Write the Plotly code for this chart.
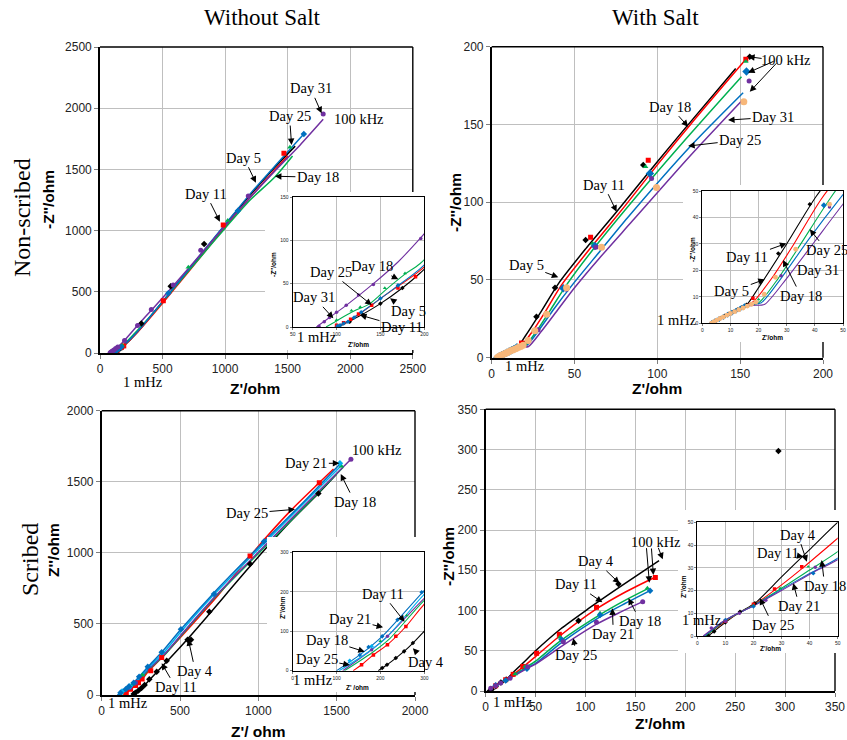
import plotly.graph_objects as go

W, H = 847, 740
SERIF = "Liberation Serif, Times New Roman, serif"
SANS = "Liberation Sans, Arial, sans-serif"

COLORS = {"black": "#000000", "red": "#FF0000", "green": "#00B050", "blue": "#0070C0",
          "purple": "#7030A0", "orange": "#F7B77A", "cyan": "#00B0F0"}
SYMBOLS = {"black": "diamond", "red": "square", "green": "triangle-up", "blue": "diamond",
           "purple": "circle", "orange": "circle", "cyan": "diamond"}

# ---------------- Panel 1: without salt, non-scribed (Z' , -Z'' in ohm) ----------------
P1_LINE_X = {
    "black": [102, 125, 150, 175, 195, 300, 420, 600, 800, 1000, 1200, 1400, 1560],
    "red": [98, 110, 126, 155, 195, 300, 420, 600, 800, 1000, 1200, 1400, 1500],
    "green": [88, 100, 117, 138, 155, 178, 195, 300, 420, 600, 800, 1000, 1200, 1400, 1539],
    "blue": [100, 115, 138, 165, 195, 300, 420, 600, 800, 1000, 1200, 1400, 1629],
    "purple": [77, 92, 111, 142, 170, 195, 300, 420, 600, 800, 1000, 1200, 1400, 1600, 1784],
}
P1_LINE_Y = {
    "black": [0, 12, 27, 45, 62, 172, 318, 545, 795, 1045, 1290, 1520, 1690],
    "red": [0, 5, 15, 36.5, 65, 170, 310, 530, 780, 1030, 1270, 1500, 1610],
    "green": [0, 7, 17, 27, 42, 61, 73, 185, 320, 540, 780, 1020, 1250, 1440, 1609],
    "blue": [0, 8, 24, 44, 67, 175, 320, 545, 800, 1050, 1300, 1530, 1789],
    "purple": [0, 11, 25, 50, 75, 102, 225, 360, 565, 800, 1040, 1270, 1490, 1700, 1909],
}
P1_MARK_X = {
    "black": [103, 115, 130, 150, 175, 330, 565, 832],
    "red": [100, 108, 116, 125, 140, 170, 190, 506, 985, 1470],
    "green": [100, 117, 127, 155, 178, 706, 1021, 1518],
    "blue": [101, 104, 108, 113, 120, 128, 150, 170, 546, 1102, 1629],
    "purple": [80, 86, 92, 100, 111, 125, 142, 196, 300, 410, 585, 805, 1185, 1784],
}
P1_MARK_Y = {
    "black": [1, 6, 14, 27, 45, 240, 545, 890],
    "red": [2, 5, 9, 15, 25, 45, 58, 427, 1046, 1631],
    "green": [8, 19, 23, 45, 62, 700, 1082, 1680],
    "blue": [1, 2, 4, 6, 11, 17, 33, 48, 488, 1163, 1789],
    "purple": [1, 6, 11, 17, 25, 37, 49, 102, 225, 355, 555, 840, 1283, 1953],
}

# ---------------- Panel 2: with salt, non-scribed ----------------
P2_LINE_X = {
    "black": [3.3, 6, 9, 12, 15.7, 20, 30, 40.5, 56.7, 75.4, 100, 117.6, 147.3],
    "red": [3.3, 6, 9, 12, 15, 18.1, 25, 32, 42.3, 60, 80, 100, 120, 153.4],
    "green": [3.3, 6, 9, 12, 15, 19.9, 27, 35, 45.3, 60, 90, 120, 150.8],
    "blue": [3.3, 6, 9, 12, 15, 18, 21, 28, 38, 48.8, 65, 82, 120, 151.8],
    "purple": [3.8, 6.5, 9.5, 12.5, 15.5, 19, 22.2, 30, 40, 50, 65, 85, 120, 151.4],
}
P2_LINE_Y = {
    "black": [0, 1.6, 3.3, 5, 6.9, 13.5, 30, 48, 70, 93.9, 126, 148.6, 186],
    "red": [0, 1.6, 3.3, 5, 6.6, 8.2, 17.5, 29, 47, 71, 97, 124, 150, 191.9],
    "green": [0, 1.6, 3.3, 5, 6.6, 7.6, 17, 30, 47, 68, 107, 144, 180.7],
    "blue": [0, 1.6, 3.3, 5, 6.6, 7.2, 7.8, 17, 32, 47, 68, 90, 136, 170.4],
    "purple": [0, 1.6, 3.3, 5, 6.4, 6.8, 7.2, 17, 31, 45, 64, 88, 130, 165.7],
}
P2_MARK_X = {
    "black": [3.5, 5, 6.5, 8, 9.5, 11, 12.5, 14, 15.7, 27, 38.2, 56.7, 91.5, 155.8],
    "red": [18, 59.7, 94.5, 153.4],
    "green": [20, 60.9, 92.9, 153.4],
    "blue": [3.3, 4.5, 6, 7.5, 9, 10.5, 12, 13.5, 15, 43.2, 62.3, 95.5, 153.8],
    "purple": [28, 45.2, 62.9, 96.5, 155.4],
    "orange": [3.3, 4.2, 5.2, 6.3, 7.5, 8.8, 10, 11.5, 13, 14.5, 16, 17.5, 19, 22, 26, 33.2, 45.2, 66.3, 99.5, 152.2],
}
P2_MARK_Y = {
    "black": [0.3, 1.2, 2, 2.8, 3.6, 4.4, 5.2, 6, 7, 26.4, 45, 75.7, 124, 193.6],
    "red": [9.5, 77.4, 127, 191.9],
    "green": [9, 73.5, 122.8, 190.5],
    "blue": [0, 0.8, 1.6, 2.4, 3.2, 4, 4.8, 5.6, 6.5, 44.6, 71.8, 118.5, 184],
    "purple": [18, 44, 71, 115.3, 178],
    "orange": [0, 0.6, 1.2, 1.8, 2.4, 3.1, 3.7, 4.4, 5.1, 5.8, 6.5, 7.2, 8, 11, 17.4, 28, 45, 71, 109.5, 164.6],
}

# ---------------- Panel 3: without salt, scribed ----------------
P3_LINE_X = {
    "black": [195, 215, 235, 254, 274, 304, 351, 415, 553, 687, 947, 1200, 1383, 1500],
    "red": [138, 157, 184, 216, 258, 297, 383, 540, 750, 947, 1200, 1389, 1480],
    "green": [118, 180, 220, 297, 400, 520, 730, 1050, 1300, 1540],
    "purple": [114, 180, 216, 297, 400, 520, 730, 1050, 1300, 1591],
    "cyan": [106, 160, 210, 297, 390, 510, 720, 1040, 1300, 1535],
    "blue": [100, 153, 204, 297, 383, 506, 717, 1036, 1300, 1521],
}
P3_LINE_Y = {
    "black": [0, 15, 32, 49, 70, 105, 160, 235, 400, 570, 905, 1215, 1418, 1555],
    "red": [0, 15, 40, 66, 112, 165, 263, 450, 710, 978, 1290, 1494, 1590],
    "green": [0, 45, 80, 175, 280, 435, 695, 1050, 1330, 1600],
    "purple": [0, 53, 87, 180, 285, 440, 700, 1060, 1340, 1658],
    "cyan": [0, 38, 80, 190, 290, 450, 710, 1070, 1360, 1620],
    "blue": [0, 40, 87, 200, 300, 462, 720, 1080, 1370, 1625],
}
P3_MARK_X = {
    "black": [204, 215, 235, 254, 274, 304, 351, 415, 548, 570, 687, 947, 1383],
    "red": [157, 184, 216, 235, 258, 313, 383, 947, 1389],
    "green": [200, 260, 1530],
    "purple": [180, 216, 1591],
    "cyan": [130, 180, 1521],
    "blue": [120, 153, 173, 204, 239, 294, 383, 506, 717, 1036],
}
P3_MARK_Y = {
    "black": [7, 15, 32, 49, 70, 110, 164, 241, 388, 388, 586, 921, 1418],
    "red": [15, 40, 66, 87, 112, 171, 263, 978, 1494],
    "green": [75, 140, 1610],
    "purple": [53, 87, 1658],
    "cyan": [25, 62, 1630],
    "blue": [15, 40, 60, 87, 129, 199, 300, 462, 710, 1079],
}

# ---------------- Panel 4: with salt, scribed ----------------
P4_LINE_X = {
    "black": [3.9, 10, 15.2, 20.5, 30, 40, 50, 75, 101, 133, 173.7],
    "red": [3, 10, 15, 20.5, 30, 37.8, 51, 73.8, 111, 140, 169.7],
    "green": [3, 10, 15, 20, 30, 40, 50, 74.5, 114.6, 140, 163],
    "blue": [2.5, 10, 15, 20, 30, 40, 50, 76, 114.6, 140, 164.7],
    "purple": [2.1, 10, 15, 20, 30, 42, 50, 77.8, 111, 135, 157.3],
}
P4_LINE_Y = {
    "black": [0, 6, 10.5, 14.4, 26, 38, 50, 77, 100.6, 128, 162],
    "red": [0, 6.5, 10.2, 14, 22.5, 30.2, 44, 68, 102, 123, 141.3],
    "green": [0, 6.8, 10.2, 13.5, 21, 29, 37.1, 62, 95, 113, 127.6],
    "blue": [0, 7, 10.3, 13.3, 20.5, 27.5, 34.2, 60, 92, 109, 124.7],
    "purple": [0, 7, 10.3, 13.2, 20, 28.5, 33.5, 57, 83, 98, 111],
}
P4_MARK_X = {
    "black": [4, 6, 10, 15.2, 20.5, 93, 133, 293.3],
    "red": [10, 20, 27.5, 37.2, 51, 73.8, 111, 170],
    "green": [10, 20, 29.5, 39.5, 74.5, 114.6, 162],
    "blue": [10, 20, 41.3, 76, 114.6, 164.7],
    "purple": [5, 10, 15, 24.4, 42, 77.8, 111, 157.3],
}
P4_MARK_Y = {
    "black": [0, 2, 6, 10.7, 14.4, 87.4, 133, 298.3],
    "red": [6.5, 14, 20.7, 30.5, 46.8, 70.4, 104, 141],
    "green": [7, 13.5, 21, 30.5, 66.7, 96.5, 127.6],
    "blue": [7, 13, 27.6, 64, 94.4, 124.7],
    "purple": [3.5, 6.5, 10, 15.7, 30.2, 61.3, 85.3, 111],
}

# ---------------- axes: ranges, ticks and pixel frames ----------------
P = {
    "p1": dict(xa="x", ya="y", xr=[0, 2500], yr=[0, 2500], px=[100, 412.8], py=[353, 47], dx=500, dy=500),
    "p2": dict(xa="x2", ya="y2", xr=[0, 200], yr=[0, 200], px=[491.7, 823], py=[357.7, 46.7], dx=50, dy=50),
    "p3": dict(xa="x3", ya="y3", xr=[0, 2000], yr=[0, 2000], px=[101.7, 415], py=[695, 410.7], dx=500, dy=500),
    "p4": dict(xa="x4", ya="y4", xr=[0, 350], yr=[0, 350], px=[485.7, 835], py=[691, 409.3], dx=50, dy=50),
    "i1": dict(xa="x5", ya="y5", xr=[50, 200], yr=[0, 150], px=[292.7, 424.3], py=[327, 197], dx=50, dy=50),
    "i2": dict(xa="x6", ya="y6", xr=[0, 50], yr=[0, 50], px=[702.3, 843], py=[323.3, 191], dx=10, dy=10),
    "i3": dict(xa="x7", ya="y7", xr=[0, 300], yr=[0, 300], px=[292.7, 424.3], py=[670.7, 552.3], dx=100, dy=100),
    "i4": dict(xa="x8", ya="y8", xr=[0, 50], yr=[0, 50], px=[697.3, 837.7], py=[636, 522.3], dx=10, dy=10),
}
# white boxes behind the insets (pixels: left, top, right, bottom)
BOXES = {"p1": (265, 192, 430, 350), "p2": (683, 185, 847, 342),
         "p3": (267, 537, 430, 692), "p4": (678, 510, 847, 653)}


def px_to_data(k, px, py):
    a = P[k]
    x = a["xr"][0] + (px - a["px"][0]) / (a["px"][1] - a["px"][0]) * (a["xr"][1] - a["xr"][0])
    y = a["yr"][0] + (py - a["py"][0]) / (a["py"][1] - a["py"][0]) * (a["yr"][1] - a["yr"][0])
    return x, y


fig = go.Figure()


def add_series(k, lx, ly, mx, my, inset, msize=None):
    a = P[k]
    lw = 1.1 if inset else 1.5
    for c in lx:
        fig.add_trace(go.Scatter(x=lx[c], y=ly[c], mode="lines", xaxis=a["xa"], yaxis=a["ya"],
                                 line=dict(color=COLORS[c], width=lw, shape="spline", smoothing=0.7),
                                 hoverinfo="skip", showlegend=False))
    for c in mx:
        s = (msize or {}).get(c, 5)
        if inset:
            s = max(3, s * 0.7)
        fig.add_trace(go.Scatter(x=mx[c], y=my[c], mode="markers", xaxis=a["xa"], yaxis=a["ya"],
                                 marker=dict(color=COLORS[c], size=s, symbol=SYMBOLS[c]),
                                 hoverinfo="skip", showlegend=False))


def add_box(k):
    x0, y0, x1, y1 = BOXES[k]
    (ax0, ay0), (ax1, ay1) = px_to_data(k, x0, y0), px_to_data(k, x1, y1)
    a = P[k]
    fig.add_trace(go.Scatter(x=[ax0, ax1, ax1, ax0, ax0], y=[ay0, ay0, ay1, ay1, ay0], mode="lines",
                             fill="toself", fillcolor="white", line=dict(width=0, color="white"),
                             xaxis=a["xa"], yaxis=a["ya"], hoverinfo="skip", showlegend=False))


P2_SIZES = {"orange": 7, "blue": 6.5}
add_series("p1", P1_LINE_X, P1_LINE_Y, P1_MARK_X, P1_MARK_Y, False)
add_box("p1")
add_series("p2", P2_LINE_X, P2_LINE_Y, P2_MARK_X, P2_MARK_Y, False, P2_SIZES)
add_box("p2")
add_series("p3", P3_LINE_X, P3_LINE_Y, P3_MARK_X, P3_MARK_Y, False)
add_box("p3")
add_series("p4", P4_LINE_X, P4_LINE_Y, P4_MARK_X, P4_MARK_Y, False)
add_box("p4")
add_series("i1", P1_LINE_X, P1_LINE_Y, P1_MARK_X, P1_MARK_Y, True)
add_series("i2", P2_LINE_X, P2_LINE_Y, P2_MARK_X, P2_MARK_Y, True, P2_SIZES)
add_series("i3", P3_LINE_X, P3_LINE_Y, P3_MARK_X, P3_MARK_Y, True)
add_series("i4", P4_LINE_X, P4_LINE_Y, P4_MARK_X, P4_MARK_Y, True)

layout = dict(template="none", width=W, height=H, margin=dict(l=0, r=0, t=0, b=0, pad=0),
              paper_bgcolor="white", plot_bgcolor="white", showlegend=False)
for k, a in P.items():
    inset = k.startswith("i")
    xname = "xaxis" + a["xa"][1:]
    yname = "yaxis" + a["ya"][1:]
    common = dict(showgrid=True, gridcolor="#BFBFBF", gridwidth=1, zeroline=False, automargin=False,
                  showline=True, linecolor="black", linewidth=1.2 if inset else 1.6,
                  mirror=inset, ticks="outside", ticklen=2 if inset else 4, tickcolor="#7F7F7F",
                  tickfont=dict(family=SANS, size=5 if inset else 12, color="#222222"),
                  fixedrange=True)
    layout[xname] = dict(common, domain=[a["px"][0] / W, a["px"][1] / W], range=a["xr"],
                         tick0=a["xr"][0], dtick=a["dx"], anchor=a["ya"])
    layout[yname] = dict(common, domain=[1 - a["py"][0] / H, 1 - a["py"][1] / H], range=a["yr"],
                         tick0=a["yr"][0], dtick=a["dy"], anchor=a["xa"])
fig.update_layout(**layout)

# main plot frames (top and right), interrupted where the inset boxes sit
shapes = []
for k in ["p1", "p2", "p3", "p4"]:
    a = P[k]
    x0, x1 = a["px"]
    yb, yt = a["py"]
    bx = BOXES[k]
    segs = [((x0, yt), (x1, yt)), ((x1, yt), (x1, bx[1])), ((x1, bx[3]), (x1, yb))]
    for (sx0, sy0), (sx1, sy1) in segs:
        shapes.append(dict(type="line", xref="paper", yref="paper", x0=sx0 / W, x1=sx1 / W,
                           y0=1 - sy0 / H, y1=1 - sy1 / H, line=dict(color="black", width=1.4)))
fig.update_layout(shapes=shapes)

anns = []


def arrow(k, text, x, y, ox, oy, size=14.5):
    anns.append(dict(xref=P[k]["xa"], yref=P[k]["ya"], x=x, y=y, ax=ox, ay=oy, text=text,
                     showarrow=True, arrowhead=2, arrowsize=1.3, arrowwidth=1, arrowcolor="black",
                     font=dict(family=SERIF, size=size, color="black")))


def label(k, text, x, y, size=14.5):
    anns.append(dict(xref=P[k]["xa"], yref=P[k]["ya"], x=x, y=y, text=text, showarrow=False,
                     font=dict(family=SERIF, size=size, color="black")))


def ptext(text, px, py, size, angle=0, family=SERIF):
    anns.append(dict(xref="paper", yref="paper", x=px / W, y=1 - py / H, text=text, showarrow=False,
                     textangle=angle, xanchor="center", yanchor="middle",
                     font=dict(family=family, size=size, color="black")))


# panel 1
arrow("p1", "Day 31", 1771, 1958, -11, -25)
arrow("p1", "Day 25", 1531, 1699, -2, -29)
arrow("p1", "Day 5", 1246, 1391, -12, -25)
arrow("p1", "Day 18", 1398, 1444, 43, 1)
arrow("p1", "Day 11", 958, 1073, -14, -28)
label("p1", "100 kHz", 2071, 1909)
# inset 1
arrow("i1", "Day 18", 170.4, 55, -26, -13)
arrow("i1", "Day 25", 140, 25.4, -41, -33)
arrow("i1", "Day 31", 96.3, 10, -19, -21)
arrow("i1", "Day 5", 161, 33.1, 18, 13)
arrow("i1", "Day 11", 126.7, 13.8, 42, 12)
# panel 2
arrow("p2", "Day 18", 118.6, 148.6, -18, -20)
arrow("p2", "Day 31", 142.7, 152.8, 45, -3)
arrow("p2", "Day 25", 118.6, 136.1, 52, -6)
arrow("p2", "Day 11", 75.4, 93.9, -13, -27)
arrow("p2", "Day 5", 40.2, 51.7, -32, -12)
label("p2", "100 kHz", 177.7, 191.4)
arrow("p2", "", 154.8, 193.6, 15, 2)
arrow("p2", "", 154.8, 183.3, 27, -12)
arrow("p2", "", 155.8, 171, 28, -30)
# inset 2
arrow("i2", "Day 11", 29.9, 30.2, -39, 14)
arrow("i2", "Day 5", 22.2, 16.6, -33, 12)
arrow("i2", "Day 25", 38.2, 35.5, 17, 21)
arrow("i2", "Day 31", 32.3, 24.6, 25, 12)
arrow("i2", "Day 18", 28.7, 23.9, 18, 36)
# panel 3
arrow("p3", "Day 21", 1517, 1630, -33, 0)
arrow("p3", "Day 18", 1526, 1554, 14, 28)
arrow("p3", "Day 25", 1234, 1306, -48, 4)
arrow("p3", "Day 4", 553, 391.6, 7, 32)
arrow("p3", "Day 11", 383, 222.7, 14, 24)
label("p3", "100 kHz", 1760, 1723)
# inset 3
arrow("i3", "Day 11", 255, 124, -22, -28)
arrow("i3", "Day 21", 206, 110, -33, -8)
arrow("i3", "Day 18", 164.3, 48.1, -38, -12)
arrow("i3", "Day 25", 130.2, 14.4, -33, -6)
arrow("i3", "Day 4", 274, 56.8, 13, 14)
# panel 4
arrow("p4", "Day 4", 134, 133.8, -23, -22)
arrow("p4", "Day 11", 116.9, 110.2, -26, -18)
arrow("p4", "Day 18", 143, 115.2, 12, 23)
arrow("p4", "Day 21", 126.9, 102.7, 1, 26)
arrow("p4", "Day 25", 87.8, 65.5, 3, 17)
label("p4", "100 kHz", 170.6, 184.8)
arrow("p4", "", 164, 134.6, -3, -36)
arrow("p4", "", 168, 144.2, -2, -28)
arrow("p4", "", 177.4, 163.6, -5, -13)
# inset 4
arrow("i4", "Day 4", 39, 32.7, -9, -27)
arrow("i4", "Day 11", 37.8, 34.9, -25, -4)
arrow("i4", "Day 18", 44.3, 33.4, 3, 26)
arrow("i4", "Day 21", 34.2, 23.2, 6, 23)
arrow("i4", "Day 25", 22.3, 16.6, 13, 27)

# low-frequency end labels (placed below/left of the axes)
for (px, py) in [(143, 382), (317, 337), (525, 366), (677, 320),
                 (128, 703), (313, 680), (513, 702), (702, 620)]:
    ptext("1 mHz", px, py, 14.5)

# titles and axis titles
ptext("Without Salt", 262, 18, 23)
ptext("With Salt", 655, 18, 23)
ptext("Non-scribed", 22, 218, 24, -90)
ptext("Scribed", 30, 560, 24, -90)
ptext("<b>-Z''/ohm</b>", 48, 200, 15.5, -90, SANS)
ptext("<b>Z'/ohm</b>", 255, 388, 15.5, 0, SANS)
ptext("<b>-Z''/ohm</b>", 456, 203, 15.5, -90, SANS)
ptext("<b>Z'/ohm</b>", 657, 388, 15.5, 0, SANS)
ptext("<b>Z''/ohm</b>", 53, 550, 15.5, -90, SANS)
ptext("<b>Z'/ ohm</b>", 258, 731, 15.5, 0, SANS)
ptext("<b>-Z''/ohm</b>", 448, 557, 15.5, -90, SANS)
ptext("<b>Z'/ohm</b>", 660, 723, 15.5, 0, SANS)
ptext("<b>-Z''/ohm</b>", 273, 265, 6.5, -90, SANS)
ptext("<b>Z'/ohm</b>", 358, 344, 6.5, 0, SANS)
ptext("<b>-Z''/ohm</b>", 692, 250, 6.5, -90, SANS)
ptext("<b>Z'/ohm</b>", 772, 337, 6.5, 0, SANS)
ptext("<b>Z''/ohm</b>", 282, 608, 6.5, -90, SANS)
ptext("<b>Z' /ohm</b>", 357, 687, 6.5, 0, SANS)
ptext("<b>Z''/ohm</b>", 683, 587, 6.5, -90, SANS)
ptext("<b>Z'/ohm</b>", 770, 648, 6.5, 0, SANS)

fig.update_layout(annotations=anns)
fig.write_html("out.html", config={"displayModeBar": False},
               post_script="document.body.style.margin='0px';document.body.style.overflow='hidden';")
